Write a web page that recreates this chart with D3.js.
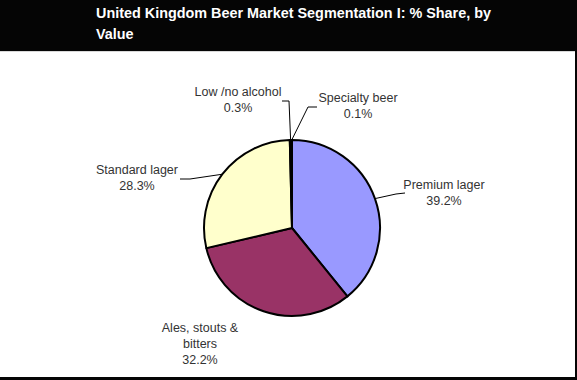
<!DOCTYPE html>
<html><head><meta charset="utf-8">
<script src="https://cdn.jsdelivr.net/npm/d3@7"></script>
<style>html,body{margin:0;padding:0;background:#fff;overflow:hidden}svg{display:block}</style>
</head><body><svg id="c" width="577" height="380"></svg>
<script>
const titleLines = ["United Kingdom Beer Market Segmentation I: % Share, by", "Value"];
const categories = ["Premium lager", "Ales, stouts & bitters", "Standard lager", "Low /no alcohol", "Specialty beer"];
const shares = [39.2, 32.2, 28.3, 0.3, 0.1];
const colors = ["#9999FF", "#993366", "#FFFFCC", "#CCFFFF", "#660066"];
const labelLines = [["Premium lager", "39.2%"], ["Ales, stouts &", "bitters", "32.2%"], ["Standard lager", "28.3%"], ["Low /no alcohol", "0.3%"], ["Specialty beer", "0.1%"]];
// label layout (centre x, first baseline y) and leader-line elbow/end points
const labelPos = [[444, 189], [200, 332], [137, 174], [238, 96], [358, 102]];
const leaders = [[[396, 194], [405, 193]], null, [[190, 179], [180, 179]], [[289, 101], [282, 101]], [[308, 107], [317, 107]]];

const svg = d3.select("#c");
const W = 577, H = 380;
svg.append("rect").attr("x", 0).attr("y", 0).attr("width", W).attr("height", H).attr("fill", "#fff");
svg.append("rect").attr("x", 0).attr("y", 0).attr("width", W).attr("height", 51).attr("fill", "#050505");
svg.append("rect").attr("x", 0).attr("y", 51).attr("width", W - 2).attr("height", 1).attr("fill", "#d8d8d8");
svg.append("rect").attr("x", W - 2).attr("y", 0).attr("width", 2).attr("height", H).attr("fill", "#050505");
svg.append("rect").attr("x", 0).attr("y", 377).attr("width", W).attr("height", 3).attr("fill", "#050505");

svg.selectAll("text.title").data(titleLines).join("text").attr("class", "title")
  .attr("x", 96).attr("y", (d, i) => 18 + i * 21)
  .attr("fill", "#fff").attr("font-family", "Liberation Sans, Arial, sans-serif")
  .attr("font-weight", "bold").attr("font-size", 14.4).text(d => d);

const cx = 292, cy = 228, r = 88;
const pie = d3.pie().sort(null).value(d => d)(shares);
const arc = d3.arc().innerRadius(0).outerRadius(r);
const g = svg.append("g").attr("transform", `translate(${cx},${cy})`);
g.selectAll("path").data(pie).join("path")
  .attr("d", arc).attr("fill", (d, i) => colors[i])
  .attr("stroke", "#000").attr("stroke-width", 2).attr("stroke-linejoin", "round");

pie.forEach((d, i) => {
  const mid = (d.startAngle + d.endAngle) / 2;
  const px = cx + r * Math.sin(mid), py = cy - r * Math.cos(mid);
  if (leaders[i]) {
    const pts = [[px, py]].concat(leaders[i]);
    svg.append("path").attr("d", d3.line()(pts)).attr("fill", "none")
      .attr("stroke", "#000").attr("stroke-width", 1);
  }
  const t = svg.append("text").attr("text-anchor", "middle")
    .attr("font-family", "Liberation Sans, Arial, sans-serif").attr("font-size", 12.5)
    .attr("fill", "#333");
  labelLines[i].forEach((s, j) => {
    t.append("tspan").attr("x", labelPos[i][0]).attr("y", labelPos[i][1] + j * 16).text(s);
  });
});
</script></body></html>
